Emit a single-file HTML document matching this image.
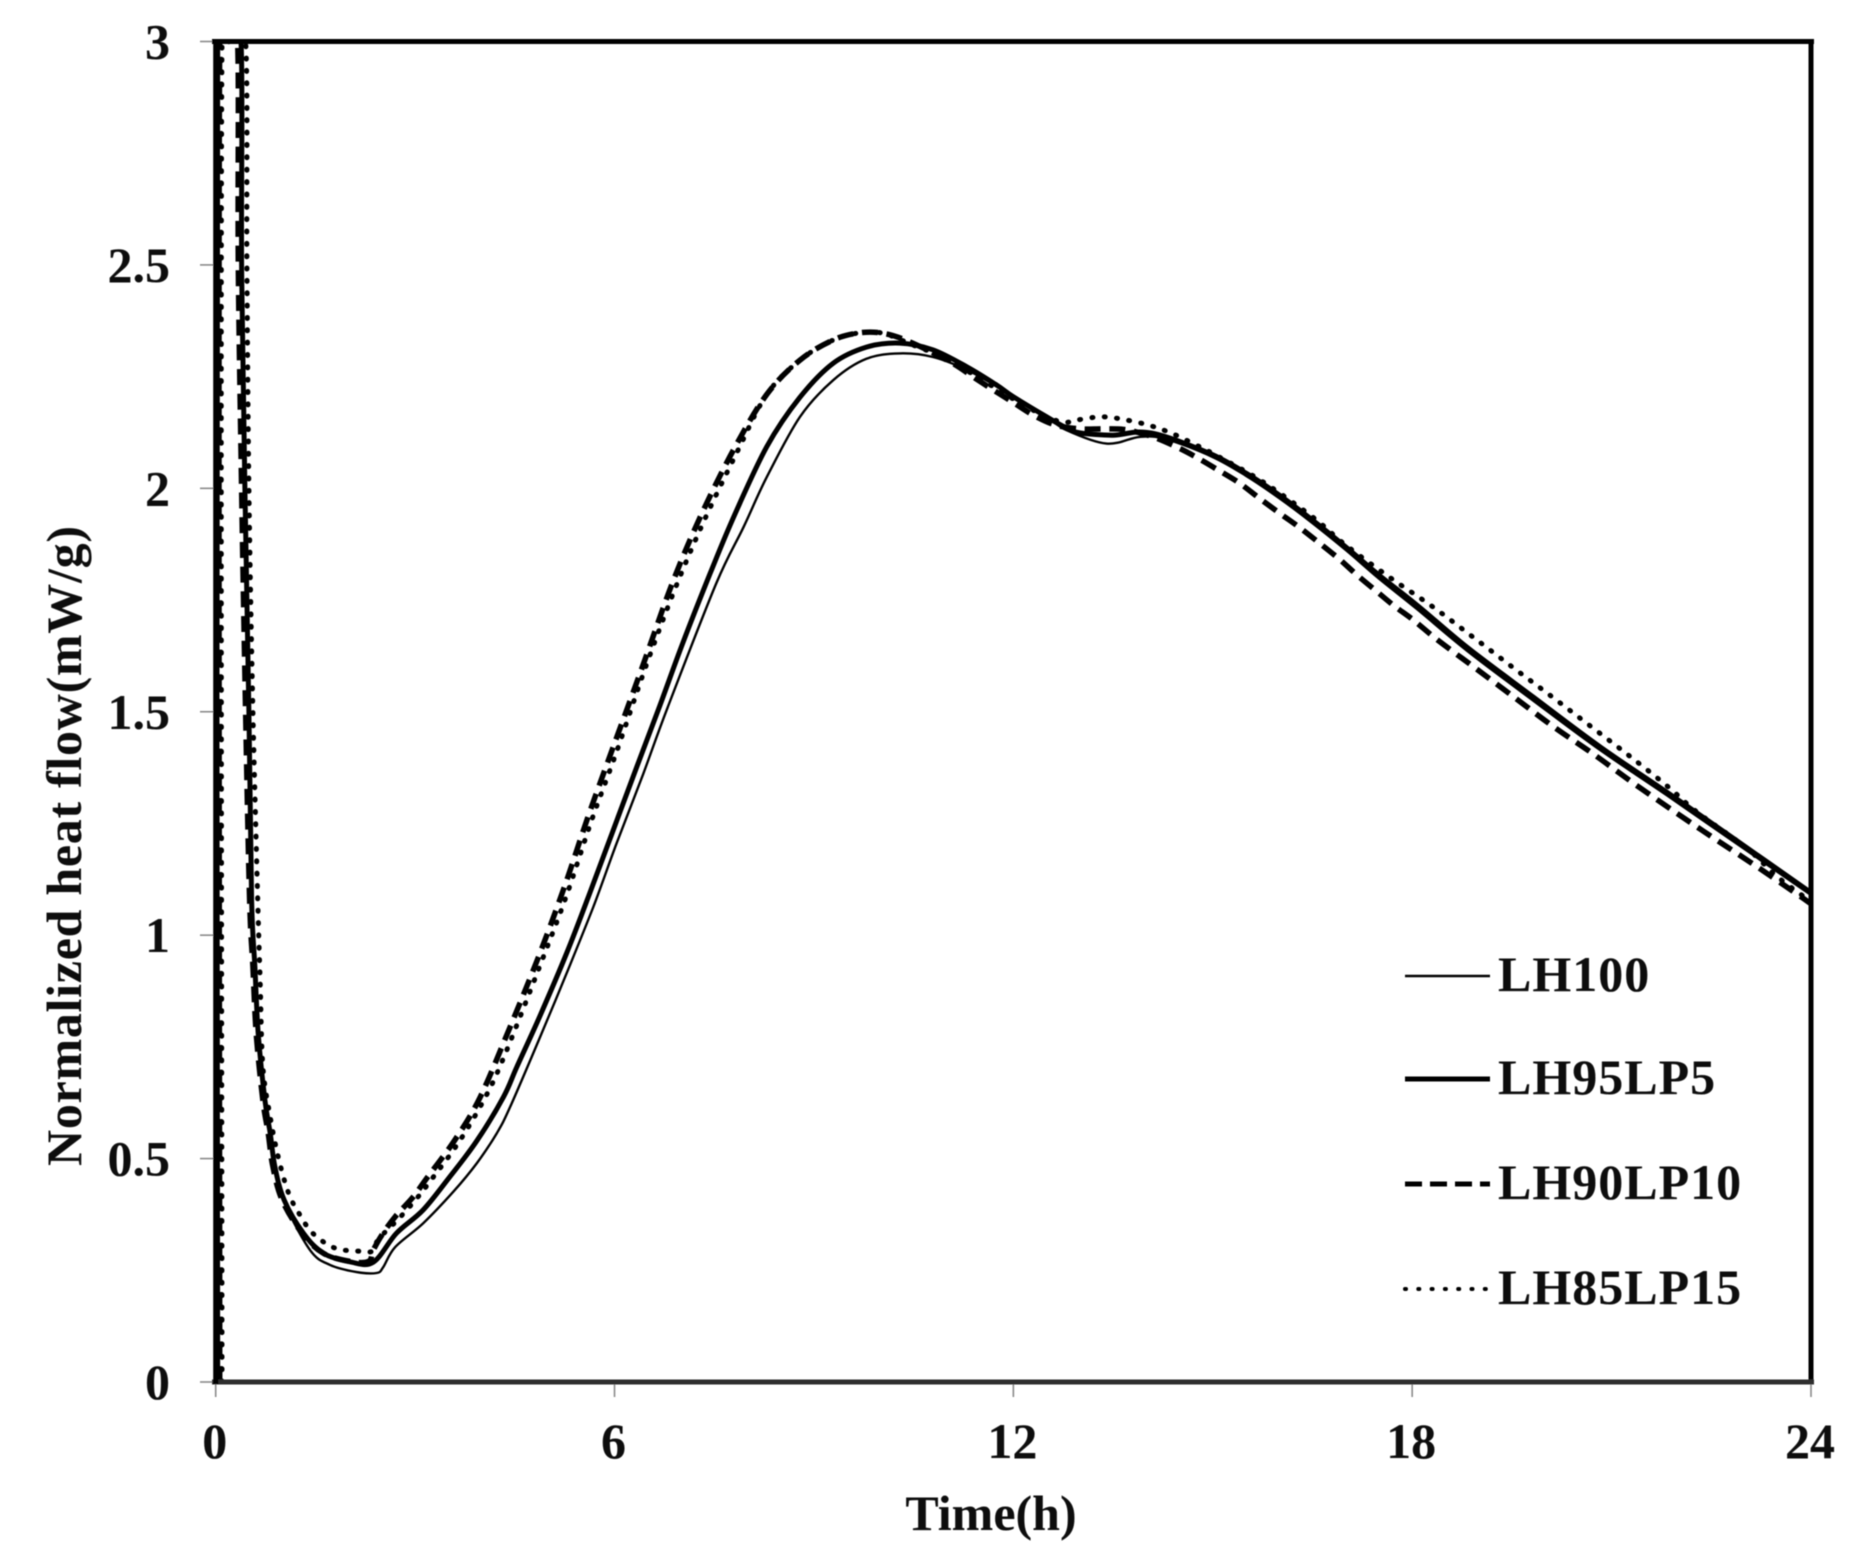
<!DOCTYPE html>
<html>
<head>
<meta charset="utf-8">
<title>Normalized heat flow</title>
<style>
html,body{margin:0;padding:0;background:#fff;width:1864px;height:1565px;overflow:hidden}
svg{display:block}
text{font-family:"Liberation Serif",serif;font-weight:bold;fill:#0a0a0a}
</style>
</head>
<body>
<svg id="chart" width="1864" height="1565" viewBox="0 0 1864 1565" xmlns="http://www.w3.org/2000/svg">
<defs>
<clipPath id="plot-clip"><rect x="205" y="41" width="1606" height="1345"/></clipPath>
<filter id="soft" x="-5%" y="-5%" width="110%" height="110%"><feGaussianBlur stdDeviation="0.6"/></filter>
</defs>
<g id="root" filter="url(#soft)"></g>
</svg>
<script>
const xTickLabels = [0, 6, 12, 18, 24];
const yTickLabels = [0, 0.5, 1, 1.5, 2, 2.5, 3];

const lh100Time = [0.03,0.03,0.2,0.39,0.40,0.45,0.51,0.55,0.60,0.65,0.75,0.83,0.90,1.04,1.42,1.72,2.12,2.42,2.52,2.70,3.12,3.57,3.93,4.23,4.43,4.88,5.28,5.68,6.03,6.43,6.8,7.53,7.94,8.29,8.79,9.29,9.79,10.29,10.79,11.3,11.75,12,12.5,12.8,13.4,13.9,14.3,15,15.5,16,16.5,17,17.5,18.07,18.82,19.82,20.83,21.83,22.83,24];
const lh100Value = [0,3,3,3,2.5,2,1.5,1.08,0.93,0.78,0.63,0.557,0.482,0.4,0.295,0.262,0.246,0.244,0.257,0.302,0.355,0.425,0.49,0.557,0.616,0.772,0.915,1.063,1.205,1.36,1.51,1.787,1.913,2.025,2.16,2.242,2.29,2.302,2.294,2.265,2.228,2.202,2.16,2.13,2.10,2.115,2.11,2.07,2.028,1.978,1.922,1.862,1.798,1.73,1.637,1.525,1.414,1.313,1.21,1.09];

const lh95Time = [0.03,0.03,0.2,0.38,0.39,0.44,0.50,0.54,0.59,0.64,0.74,0.82,0.89,1.03,1.32,1.62,2.02,2.37,2.72,3.12,3.52,3.93,4.33,4.53,4.88,5.28,5.63,5.98,6.33,6.66,7.03,7.44,7.79,8.29,8.79,9.29,9.79,10.29,10.79,11.3,11.75,12,12.5,12.8,13.0,13.5,13.9,14.3,15,15.5,16,16.5,17,17.5,18.07,18.82,19.82,20.83,21.83,22.83,24];
const lh95Value = [0,3,3,3,2.5,2,1.5,1.079,0.929,0.78,0.631,0.557,0.482,0.407,0.333,0.288,0.269,0.268,0.333,0.385,0.459,0.54,0.638,0.705,0.82,0.96,1.095,1.235,1.375,1.505,1.655,1.81,1.935,2.093,2.204,2.28,2.316,2.325,2.31,2.272,2.231,2.205,2.16,2.135,2.124,2.119,2.126,2.115,2.075,2.034,1.985,1.929,1.869,1.806,1.739,1.645,1.533,1.421,1.32,1.217,1.095];

const lh90Time = [0.06,0.06,0.2,0.33,0.34,0.39,0.45,0.51,0.56,0.61,0.71,0.79,0.86,1.0,1.3,1.62,2.02,2.3,2.37,2.5,2.7,2.97,3.18,3.6,3.98,4.43,4.85,5.23,5.6,5.98,6.43,6.86,7.29,7.79,8.29,8.79,9.29,9.69,10.04,10.44,11.05,11.4,11.7,12,12.3,12.63,13,13.35,13.7,14.1,14.45,14.75,15.08,15.4,15.7,16,16.3,16.6,16.9,17.17,17.46,17.73,18.02,18.32,18.62,18.93,19.53,20.13,20.73,21.33,21.98,22.58,23.19,23.81,24];
const lh90Value = [0,3,3,3,2.5,2,1.5,1.08,0.93,0.78,0.63,0.557,0.482,0.407,0.333,0.288,0.27,0.27,0.295,0.329,0.37,0.414,0.457,0.542,0.638,0.795,0.949,1.101,1.264,1.421,1.605,1.784,1.936,2.086,2.21,2.287,2.332,2.348,2.347,2.328,2.283,2.249,2.22,2.192,2.164,2.142,2.133,2.133,2.131,2.115,2.093,2.07,2.041,2.012,1.978,1.945,1.913,1.878,1.842,1.806,1.77,1.737,1.705,1.668,1.634,1.60,1.533,1.466,1.405,1.34,1.273,1.213,1.153,1.09,1.07];

const lh85Time = [0.095,0.095,0.25,0.45,0.47,0.50,0.56,0.64,0.67,0.71,0.82,0.94,1.09,1.25,1.46,1.79,2.14,2.36,2.45,2.75,3.02,3.23,3.65,4.03,4.33,4.9,5.28,5.65,6.03,6.48,6.91,7.34,7.84,8.29,8.79,9.29,9.69,10.04,10.5,11.05,12,12.5,12.78,12.96,13.33,13.7,14.07,14.4,14.75,15.1,15.76,16.5,17,17.67,18.29,18.89,19.49,20.09,20.68,21.27,21.85,22.28,23.03,23.5,24];
const lh85Value = [0,3,3,3,2.5,2,1.5,1.04,0.893,0.705,0.593,0.504,0.425,0.378,0.333,0.30,0.293,0.293,0.32,0.365,0.41,0.45,0.535,0.63,0.725,0.94,1.09,1.255,1.41,1.605,1.775,1.925,2.08,2.21,2.287,2.332,2.348,2.347,2.32,2.285,2.2,2.16,2.148,2.153,2.16,2.153,2.14,2.122,2.097,2.07,2.014,1.936,1.873,1.80,1.737,1.67,1.602,1.535,1.468,1.401,1.332,1.276,1.195,1.13,1.075];

const legendLabels = ['LH100', 'LH95LP5', 'LH90LP10', 'LH85LP15'];

const root = document.getElementById('root');
const NS = 'http://www.w3.org/2000/svg';
const X0 = 215.7, X1 = 1811, Y0 = 1382, Y3 = 41.5;
function xScale(t){ return X0 + (t / 24) * (X1 - X0); }
function yScale(v){ return Y0 - (v / 3) * (Y0 - Y3); }
function make(tag, attrs, parent){
  const el = document.createElementNS(NS, tag);
  for (const k in attrs) el.setAttribute(k, attrs[k]);
  (parent || root).appendChild(el);
  return el;
}
function curve(ts, vs){
  const p = ts.map((t, i) => [xScale(t), yScale(vs[i])]);
  let d = 'M' + p[0][0].toFixed(1) + ' ' + p[0][1].toFixed(1);
  for (let i = 0; i < p.length - 1; i++){
    const a = p[Math.max(i - 1, 0)], b = p[i], c = p[i + 1], e = p[Math.min(i + 2, p.length - 1)];
    const c1x = b[0] + (c[0] - a[0]) / 6, c1y = b[1] + (c[1] - a[1]) / 6;
    const c2x = c[0] - (e[0] - b[0]) / 6, c2y = c[1] - (e[1] - b[1]) / 6;
    d += 'C' + c1x.toFixed(1) + ' ' + c1y.toFixed(1) + ' ' + c2x.toFixed(1) + ' ' + c2y.toFixed(1) + ' ' + c[0].toFixed(1) + ' ' + c[1].toFixed(1);
  }
  return d;
}

// ticks
yTickLabels.forEach(v => {
  const tick = make('line', {x1: 200, x2: X0, y1: yScale(v), y2: yScale(v), stroke: '#8a8a8a', 'stroke-width': 1.6});
  
  
  const label = make('text', {x: 170, y: yScale(v) + 17, 'font-size': 50, 'text-anchor': 'end'});
  
  
  label.textContent = v;
});
xTickLabels.forEach(t => {
  const tick = make('line', {x1: xScale(t), x2: xScale(t), y1: Y0, y2: 1397, stroke: '#8a8a8a', 'stroke-width': 1.6});
  
  
  const label = make('text', {x: xScale(t) - 1, y: 1458, 'font-size': 50, 'text-anchor': 'middle'});
  
  
  label.textContent = t;
});

// series
const seriesGroup = make('g', {'clip-path': 'url(#plot-clip)', fill: 'none', 'stroke-linejoin': 'round'});



const s100 = make('path', {d: curve(lh100Time, lh100Value), stroke: '#000', 'stroke-width': 2.4}, seriesGroup);


const s95 = make('path', {d: curve(lh95Time, lh95Value), stroke: '#000', 'stroke-width': 5}, seriesGroup);


const s90 = make('path', {d: curve(lh90Time, lh90Value), stroke: '#000', 'stroke-width': 5.5, 'stroke-dasharray': '16 8.7'}, seriesGroup);


const s85 = make('path', {d: curve(lh85Time, lh85Value), stroke: '#000', 'stroke-width': 5, 'stroke-dasharray': '1 11.35', 'stroke-linecap': 'round'}, seriesGroup);



// frame
const frameTop = make('line', {x1: 212, x2: 1814, y1: Y3, y2: Y3, stroke: '#000', 'stroke-width': 5});


const frameRight = make('line', {x1: X1, x2: X1, y1: Y3 - 2, y2: Y0 + 2, stroke: '#000', 'stroke-width': 5});


const frameBottom = make('line', {x1: 212, x2: 1814, y1: Y0, y2: Y0, stroke: '#2e2e2e', 'stroke-width': 5});


const frameLeft = make('line', {x1: X0, x2: X0, y1: Y3 - 2, y2: Y0 + 2, stroke: '#000', 'stroke-width': 5});



// legend
const legendY = [976, 1079, 1184, 1289];
const legendStyle = [
  {w: 2.4, dash: null},
  {w: 5, dash: null},
  {w: 5, dash: '17 8'},
  {w: 4, dash: '1 12.3'}
];
legendLabels.forEach((name, i) => {
  const key = make('line', {x1: 1405, x2: 1490, y1: legendY[i], y2: legendY[i], stroke: '#000', 'stroke-width': legendStyle[i].w});
  if (legendStyle[i].dash) key.setAttribute('stroke-dasharray', legendStyle[i].dash);
  if (i === 3) key.setAttribute('stroke-linecap', 'round');
  
  
  const label = make('text', {x: 1498, y: legendY[i] + 15, 'font-size': 50, 'letter-spacing': 1});
  
  
  label.textContent = name;
});

// axis titles
const xTitle = make('text', {x: 991, y: 1530, 'font-size': 50, 'text-anchor': 'middle'});


xTitle.textContent = 'Time(h)';
const yTitle = make('text', {x: 0, y: 0, 'font-size': 50, 'text-anchor': 'middle', transform: 'translate(81 846) rotate(-90)', textLength: 640, lengthAdjust: 'spacing'});


yTitle.textContent = 'Normalized heat flow(mW/g)';
</script>
</body>
</html>
